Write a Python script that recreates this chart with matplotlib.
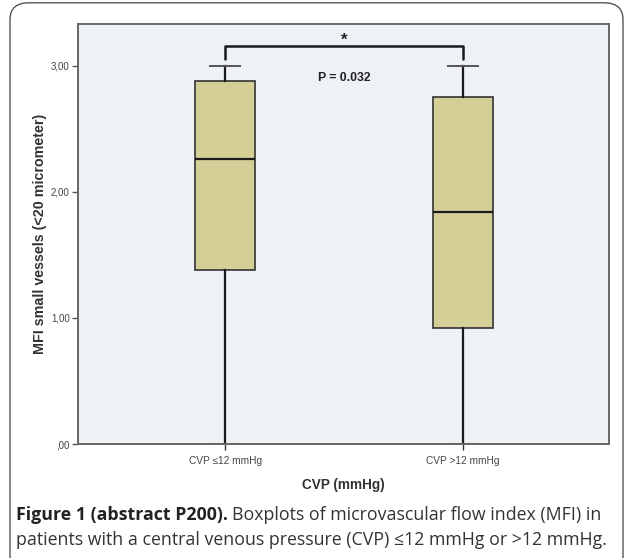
import matplotlib.pyplot as plt
from matplotlib.patches import FancyBboxPatch

# ------------------------------------------------------------
# Data
# ------------------------------------------------------------
groups = ["CVP \u226412 mmHg", "CVP >12 mmHg"]
whisker_low = [0.0, 0.0]
q1 = [1.38, 0.92]
median = [2.26, 1.84]
q3 = [2.88, 2.75]
whisker_high = [3.0, 3.0]

y_ticks = [0.0, 1.0, 2.0, 3.0]
y_tick_labels = [",00", "1,00", "2,00", "3,00"]
p_text = "P = 0.032"

BOX_FILL = "#d3cf97"
AX_BG = "#eef1f5"

fig = plt.figure(figsize=(6.33, 5.58), dpi=100)

# rounded frame around the whole figure
frame = FancyBboxPatch((10 / 633, -0.05), 613 / 633, 1.045,
                       boxstyle="round,pad=0,rounding_size=0.03",
                       transform=fig.transFigure, fill=False,
                       edgecolor="#555555", linewidth=1.0, clip_on=False)
fig.patches.append(frame)

ax = fig.add_axes([78 / 633, 1 - 444 / 558, 531 / 633, 420 / 558])
ax.set_facecolor(AX_BG)

stats = []
for i, name in enumerate(groups):
    stats.append({"label": name, "whislo": whisker_low[i], "q1": q1[i],
                  "med": median[i], "q3": q3[i], "whishi": whisker_high[i],
                  "fliers": []})

ax.bxp(stats, positions=[1, 2], widths=0.252, patch_artist=True,
       showfliers=False,
       boxprops=dict(facecolor=BOX_FILL, edgecolor="#333333", linewidth=1.2),
       medianprops=dict(color="#1a1a1a", linewidth=1.6),
       whiskerprops=dict(color="#1a1a1a", linewidth=1.6),
       capprops=dict(color="#555555", linewidth=1.4),
       capwidths=0.126)

ax.set_xlim(0.382, 2.613)
ax.set_ylim(0, 3.33)

ax.set_yticks(y_ticks)
ax.set_yticklabels(y_tick_labels, fontsize=7, color="#444444",
                   family="Liberation Sans")
ax.tick_params(axis="y", direction="out", length=4, width=1, color="#555555", pad=2)
ax.set_xticks([1, 2])
ax.set_xticklabels(groups, fontsize=7.3, color="#444444", family="Liberation Sans")
ax.tick_params(axis="x", direction="out", length=4, width=1, color="#333333", pad=5)

for s in ax.spines.values():
    s.set_color("#666666")
    s.set_linewidth(1.4)

ax.set_ylabel("MFI small vessels (<20 micrometer)", fontsize=10.3,
              fontweight="bold", family="Liberation Sans", color="#333333",
              labelpad=3)
ax.set_xlabel("CVP (mmHg)", fontsize=9.8, fontweight="bold",
              family="Liberation Sans", color="#333333", labelpad=8)

# significance bracket
ax.plot([1, 1, 2, 2], [3.055, 3.157, 3.157, 3.055], color="#1a1a1a",
        linewidth=1.8, solid_joinstyle="round", solid_capstyle="round")
ax.text(1.5, 3.2, "*", ha="center", va="center", fontsize=12,
        fontweight="bold", family="Liberation Sans", color="#222222")
ax.text(1.5, 2.9, p_text, ha="center", va="center", fontsize=8.8,
        fontweight="bold", family="Liberation Sans", color="#222222")

# caption: bold lead-in followed directly by the normal text
cap_size = 12.8
y1 = 1 - 515 / 558
y2 = 1 - 540 / 558
lead = fig.text(16 / 633, y1, "Figure 1 (abstract P200).", fontsize=cap_size,
                fontweight="bold", family="Open Sans", color="#222222",
                va="center")
renderer = fig.canvas.get_renderer()
bb = lead.get_window_extent(renderer=renderer)
fig.text((bb.x1 + 4) / fig.bbox.width, y1,
         "Boxplots of microvascular flow index (MFI) in",
         fontsize=cap_size, family="Open Sans", color="#333333", va="center")
fig.text(16 / 633, y2,
         "patients with a central venous pressure (CVP) \u226412 mmHg or >12 mmHg.",
         fontsize=cap_size, family="Open Sans", color="#333333", va="center")

fig.savefig("out.png", dpi=100)
